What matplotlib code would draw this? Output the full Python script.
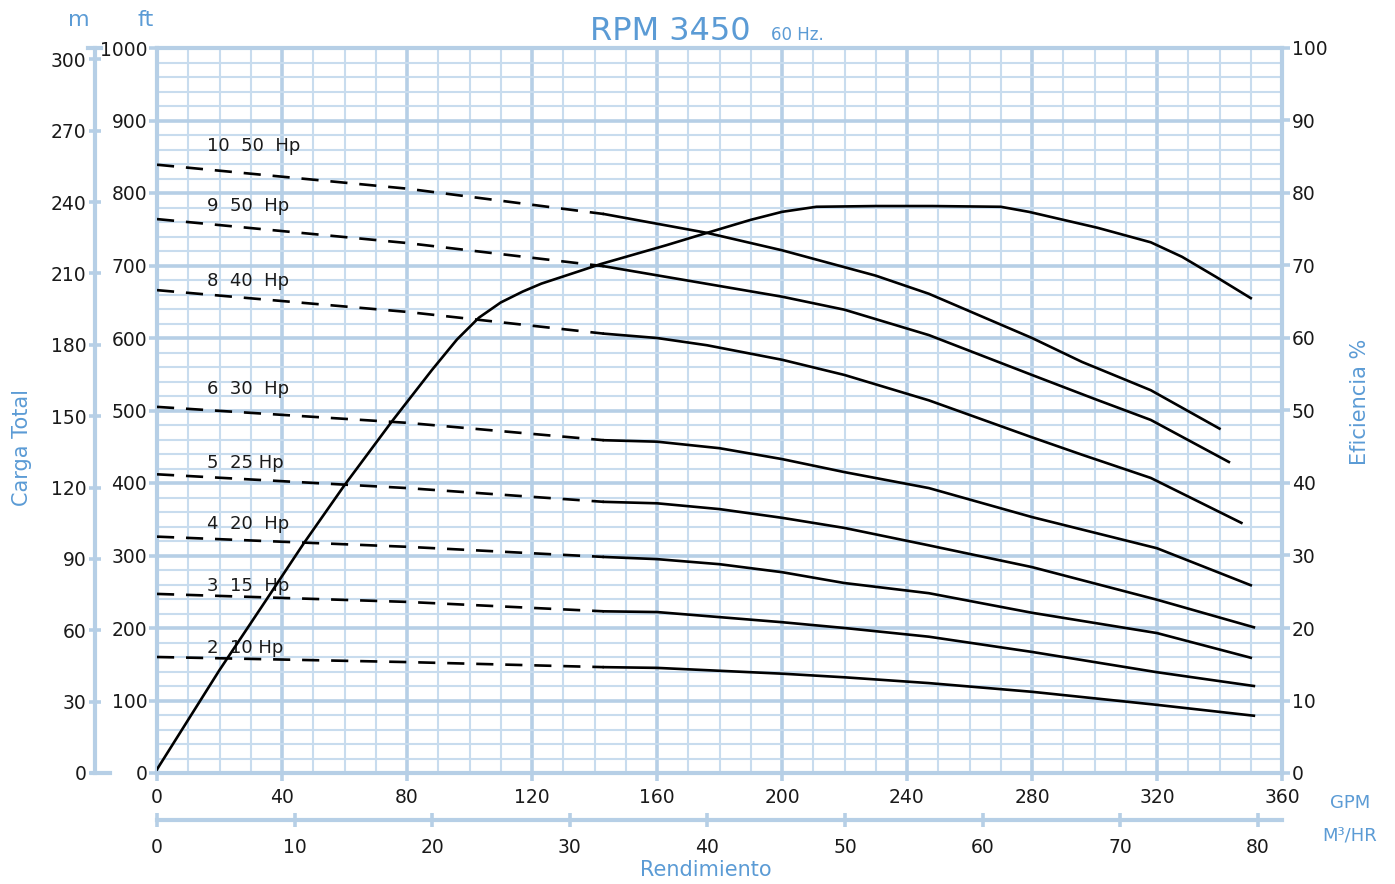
import matplotlib
matplotlib.use('Agg')
import matplotlib.pyplot as plt
from matplotlib.lines import Line2D

# pump curves: flow (GPM) vs total head (ft), per stage count
q_10 = [0, 80, 143, 176, 200, 230, 247, 280, 296, 318, 340]
h_10 = [839, 806, 771, 745, 721, 686, 661, 600, 567, 528, 475]
q_9 = [0, 80, 143, 200, 220, 247, 280, 300, 318, 343]
h_9 = [764, 731, 699, 657, 639, 604, 549, 516, 487, 429]
q_8 = [0, 80, 143, 160, 176, 200, 220, 247, 280, 296, 318, 347]
h_8 = [666, 636, 606, 600, 590, 570, 549, 514, 463, 439, 407, 345]
q_6 = [0, 80, 143, 160, 180, 200, 220, 247, 280, 320, 350]
h_6 = [505, 483, 459, 457, 448, 433, 415, 393, 353, 310, 259]
q_5 = [0, 80, 143, 160, 180, 200, 220, 247, 280, 320, 351]
h_5 = [412, 393, 374, 372, 364, 352, 338, 314, 284, 239, 201]
q_4 = [0, 80, 143, 160, 180, 200, 220, 247, 280, 320, 350]
h_4 = [326, 312, 298, 295, 288, 277, 262, 248, 221, 193, 159]
q_3 = [0, 80, 143, 160, 180, 200, 220, 247, 280, 320, 351]
h_3 = [247, 236, 223, 222, 215, 208, 200, 188, 167, 139, 120]
q_2 = [0, 80, 143, 160, 180, 200, 220, 247, 280, 320, 351]
h_2 = [160, 153, 146, 145, 141, 137, 132, 124, 112, 94, 79]

curves = [(q_10, h_10), (q_9, h_9), (q_8, h_8), (q_6, h_6),
          (q_5, h_5), (q_4, h_4), (q_3, h_3), (q_2, h_2)]
labels = ["10  50  Hp", "9  50  Hp", "8  40  Hp", "6  30  Hp",
          "5  25 Hp", "4  20  Hp", "3  15  Hp", "2  10 Hp"]
label_h = [865, 782, 679, 530, 428, 343, 258, 172]
dash_end = 143  # GPM where the dashed part stops

# efficiency curve (%)
q_eff = [0, 20, 35, 47, 60, 75, 88, 92, 96, 103, 110, 117, 123, 135, 142, 163,
         176, 190, 200, 211, 230, 248, 270, 279, 301, 318, 328, 339, 350]
eff = [0.5, 14.2, 23.9, 31.7, 39.7, 48.4, 55.6, 57.7, 59.8, 62.8, 64.9, 66.4,
       67.5, 69.2, 70.2, 72.8, 74.5, 76.3, 77.4, 78.1, 78.2, 78.2, 78.1, 77.4,
       75.2, 73.2, 71.2, 68.4, 65.5]

gpm_ticks = list(range(0, 361, 40))
ft_ticks = list(range(0, 1001, 100))
m_ticks = list(range(0, 301, 30))
m3_ticks = list(range(0, 81, 10))
eff_ticks = list(range(0, 101, 10))

major_c = '#b6cfe6'
minor_c = '#c8dcee'
blue = '#5b9bd5'
txt_c = '#1a1a1a'

plt.rcParams['font.family'] = ['DejaVu Sans']

W, H = 1395, 884
fig = plt.figure(figsize=(W / 100, H / 100), dpi=100)
ax = fig.add_axes([157 / W, 1 - 773 / H, 1125 / W, 725 / H])
ax.set_xlim(0, 360)
ax.set_ylim(0, 1000)

ax.set_xticks(gpm_ticks)
ax.set_xticks(range(0, 361, 10), minor=True)
ax.set_yticks(ft_ticks)
ax.set_yticks(range(0, 1001, 20), minor=True)
ax.grid(which='minor', color=minor_c, lw=1.5, zorder=0)
ax.grid(which='major', color=major_c, lw=2.6, zorder=0)
ax.set_axisbelow(True)
for s in ax.spines.values():
    s.set_color(major_c)
    s.set_linewidth(3)
ax.tick_params(which='minor', length=0)
ax.tick_params(which='major', length=6, width=2.6, color=major_c,
               labelsize=13.5, labelcolor=txt_c)
ax.tick_params(axis='x', pad=5)
ax.tick_params(axis='y', pad=1)

# pump curves: dashed at low flow, solid afterwards
for (q, h), lab, lh in zip(curves, labels, label_h):
    qd = [v for v in q if v <= dash_end]
    hd = [h[i] for i, v in enumerate(q) if v <= dash_end]
    qs = [v for v in q if v >= dash_end]
    hs = [h[i] for i, v in enumerate(q) if v >= dash_end]
    ax.plot(qd, hd, color='black', lw=1.9, dashes=(6.5, 4.5), zorder=3)
    ax.plot(qs, hs, color='black', lw=1.9, zorder=3, solid_joinstyle='round')
    ax.text(16, lh, lab, fontsize=13, va='center', color=txt_c)

# efficiency axis on the right
ax2 = ax.twinx()
ax2.set_ylim(0, 100)
ax2.set_yticks(eff_ticks)
for s in ax2.spines.values():
    s.set_visible(False)
ax2.tick_params(length=6, width=2.6, color=major_c, labelsize=13.5,
                labelcolor=txt_c, pad=1)
ax2.plot(q_eff, eff, color='black', lw=1.9, zorder=3, solid_joinstyle='round')

# meters axis on the left
sec = ax.secondary_yaxis(-0.0551, functions=(lambda f: f * 0.3048,
                                             lambda m: m / 0.3048))
sec.set_yticks(m_ticks)
sec.spines['left'].set_color(major_c)
sec.spines['left'].set_linewidth(3)
sec.tick_params(direction='inout', length=8, width=2.6, color=major_c,
                labelsize=13.5, labelcolor=txt_c, pad=2)

# m3/hr axis below
secx = ax.secondary_xaxis(-0.0648, functions=(lambda q: q / 4.403,
                                              lambda m: m * 4.403))
secx.set_xticks(m3_ticks)
secx.spines['bottom'].set_color(major_c)
secx.spines['bottom'].set_linewidth(3)
secx.tick_params(direction='inout', length=10, width=2.6, color=major_c,
                 labelsize=13.5, labelcolor=txt_c, pad=8)

# small caps on the meters axis
fig.add_artist(Line2D([88 / W, 101 / W], [1 - 48 / H, 1 - 48 / H],
                      color=major_c, lw=3))
fig.add_artist(Line2D([92 / W, 110 / W], [1 - 773 / H, 1 - 773 / H],
                      color=major_c, lw=3))

fig.text(79 / W, 1 - 20 / H, 'm', color=blue, fontsize=16, ha='center', va='center')
fig.text(146 / W, 1 - 20 / H, 'ft', color=blue, fontsize=16, ha='center', va='center')
fig.text(670 / W, 1 - 31 / H, 'RPM 3450', color=blue, fontsize=23, ha='center', va='center')
fig.text(797 / W, 1 - 35 / H, '60 Hz.', color=blue, fontsize=12, ha='center', va='center')
fig.text(22 / W, 1 - 447 / H, 'Carga Total', color=blue, fontsize=15,
         rotation=90, ha='center', va='center')
fig.text(1360 / W, 1 - 402 / H, 'Eficiencia %', color=blue, fontsize=15,
         rotation=90, ha='center', va='center')
fig.text(706 / W, 1 - 870 / H, 'Rendimiento', color=blue, fontsize=15,
         ha='center', va='center')
fig.text(1350 / W, 1 - 803 / H, 'GPM', color=blue, fontsize=13, ha='center', va='center')
fig.text(1350 / W, 1 - 835 / H, 'M³/HR', color=blue, fontsize=13, ha='center', va='center')

fig.savefig('out.png', dpi=100)
